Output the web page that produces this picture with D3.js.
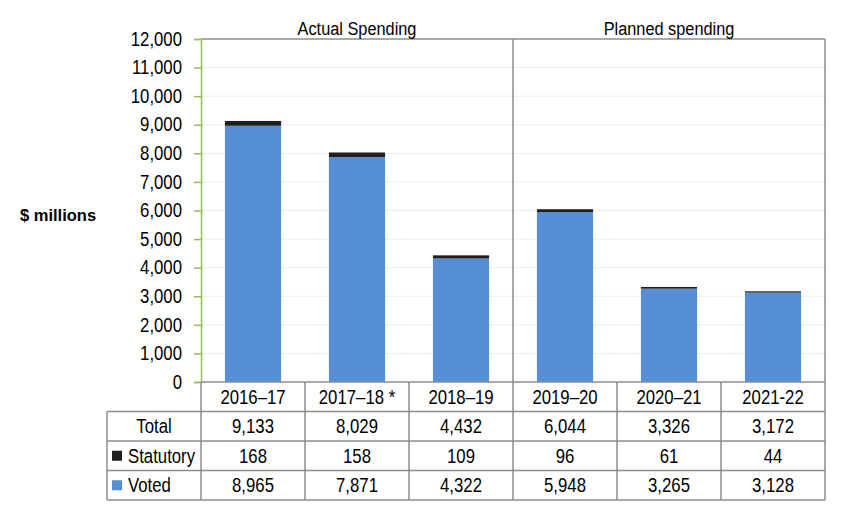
<!DOCTYPE html>
<html>
<head>
<meta charset="utf-8">
<script src="https://d3js.org/d3.v7.min.js"></script>
<style>
  body { margin: 0; background: #fff; }
  text { font-family: "Liberation Sans", Arial, sans-serif; fill: #000; }
</style>
</head>
<body>
<svg id="chart" width="850" height="524"></svg>
<script>
// Data
const years = ["2016\u201317", "2017\u201318 *", "2018\u201319", "2019\u201320", "2020\u201321", "2021-22"];
const voted = [8965, 7871, 4322, 5948, 3265, 3128];
const statutory = [168, 158, 109, 96, 61, 44];
const totals = [9133, 8029, 4432, 6044, 3326, 3172];
const yTicks = [0, 1000, 2000, 3000, 4000, 5000, 6000, 7000, 8000, 9000, 10000, 11000, 12000];
const sections = [
    { label: "Actual Spending", from: 0, to: 2 },
    { label: "Planned spending", from: 3, to: 5 }
];

const svg = d3.select("#chart");
const margin = { left: 201, right: 25, top: 39, bottom: 142 };
const width = 850, height = 524;
const plotW = width - margin.left - margin.right;
const plotH = height - margin.top - margin.bottom;
const fontSize = "19.5px";
const squeeze = 0.86; // the original uses a narrow face; no narrow font installed, so scale x

const colors = { voted: "#558ed5", statutory: "#1f1f1f", grid: "#ececec", frame: "#8c8c8c", axis: "#9bbb59" };

const x = d3.scaleBand().domain(years).range([margin.left, margin.left + plotW]).paddingInner(0).paddingOuter(0);
const y = d3.scaleLinear().domain([0, 12000]).range([margin.top + plotH, margin.top]);

// helper: narrow text placed at (px, py)
function narrowText(sel, px, py) {
    return sel.attr("transform", `translate(${px},${py}) scale(${squeeze},1)`);
}

// gridlines
svg.append("g")
    .selectAll("line")
    .data(yTicks.filter(d => d > 0 && d < 12000))
    .join("line")
    .attr("x1", margin.left)
    .attr("x2", margin.left + plotW)
    .attr("y1", d => y(d))
    .attr("y2", d => y(d))
    .attr("stroke", colors.grid)
    .attr("stroke-width", 1);

// stacked bars
const stack = years.map((yr, i) => ({ yr, voted: voted[i], statutory: statutory[i] }));
const barW = x.bandwidth() * 0.54;
const bars = svg.append("g");
bars.selectAll("rect.voted")
    .data(stack)
    .join("rect")
    .attr("class", "voted")
    .attr("x", d => x(d.yr) + (x.bandwidth() - barW) / 2)
    .attr("width", barW)
    .attr("y", d => y(d.voted))
    .attr("height", d => y(0) - y(d.voted))
    .attr("fill", colors.voted);
bars.selectAll("rect.stat")
    .data(stack)
    .join("rect")
    .attr("class", "stat")
    .attr("x", d => x(d.yr) + (x.bandwidth() - barW) / 2)
    .attr("width", barW)
    .attr("y", d => y(d.voted + d.statutory))
    .attr("height", d => y(d.voted) - y(d.voted + d.statutory))
    .attr("fill", colors.statutory);

// frame: top, right, divider
svg.append("line")
    .attr("x1", margin.left).attr("x2", margin.left + plotW)
    .attr("y1", y(12000)).attr("y2", y(12000))
    .attr("stroke", colors.frame).attr("stroke-width", 1.5);
svg.append("line")
    .attr("x1", margin.left + plotW).attr("x2", margin.left + plotW)
    .attr("y1", y(12000)).attr("y2", y(0))
    .attr("stroke", colors.frame).attr("stroke-width", 1.5);
const divX = x(years[3]);
svg.append("line")
    .attr("x1", divX).attr("x2", divX)
    .attr("y1", y(12000)).attr("y2", y(0))
    .attr("stroke", colors.frame).attr("stroke-width", 1.5);

// section titles
svg.append("g")
    .selectAll("text")
    .data(sections)
    .join("text")
    .each(function(d) {
        narrowText(d3.select(this), (x(years[d.from]) + x(years[d.to]) + x.bandwidth()) / 2, 35);
    })
    .attr("text-anchor", "middle")
    .style("font-size", "19px")
    .text(d => d.label);

// y axis (green)
const yAxis = svg.append("g")
    .attr("transform", `translate(${margin.left},0)`)
    .call(d3.axisLeft(y).tickValues(yTicks).tickSize(7).tickPadding(12).tickFormat(d3.format(",")));
yAxis.attr("font-family", null);
yAxis.select(".domain").attr("stroke", colors.axis).attr("stroke-width", 1.5);
yAxis.selectAll(".tick line").attr("stroke", colors.axis).attr("stroke-width", 1.5);
yAxis.selectAll(".tick text")
    .style("font-size", fontSize)
    .attr("fill", "#000")
    .attr("x", -19 / squeeze)
    .attr("transform", `scale(${squeeze},1)`);

// y label
svg.append("text")
    .attr("x", 20)
    .attr("y", 221)
    .style("font-size", "16.5px")
    .style("font-weight", "bold")
    .text("$ millions");

// data table under the plot
const rowH = 29.5;
const tableTop = y(0);
const tableLeft = 107;
const rows = [
    { label: "Total", values: totals, swatch: null },
    { label: "Statutory", values: statutory, swatch: colors.statutory },
    { label: "Voted", values: voted, swatch: colors.voted }
];
const fmt = d3.format(",");
const table = svg.append("g");
const tableBottom = tableTop + rowH * 4;

// horizontal lines
table.append("line")
    .attr("x1", margin.left).attr("x2", margin.left + plotW)
    .attr("y1", tableTop).attr("y2", tableTop)
    .attr("stroke", colors.frame).attr("stroke-width", 1.5);
table.selectAll("line.h")
    .data(d3.range(1, 5))
    .join("line")
    .attr("class", "h")
    .attr("x1", tableLeft).attr("x2", margin.left + plotW)
    .attr("y1", d => tableTop + d * rowH).attr("y2", d => tableTop + d * rowH)
    .attr("stroke", colors.frame).attr("stroke-width", 1.5);
// vertical lines
table.selectAll("line.v")
    .data(years.map(yv => x(yv)).concat([margin.left + plotW]))
    .join("line")
    .attr("class", "v")
    .attr("x1", d => d).attr("x2", d => d)
    .attr("y1", tableTop).attr("y2", tableBottom)
    .attr("stroke", colors.frame).attr("stroke-width", 1.5);
table.append("line")
    .attr("x1", tableLeft).attr("x2", tableLeft)
    .attr("y1", tableTop + rowH).attr("y2", tableBottom)
    .attr("stroke", colors.frame).attr("stroke-width", 1.5);

// header (year labels)
table.selectAll("text.yr")
    .data(years)
    .join("text")
    .attr("class", "yr")
    .each(function(d) {
        narrowText(d3.select(this), x(d) + x.bandwidth() / 2, tableTop + rowH / 2 + 7);
    })
    .attr("text-anchor", "middle")
    .style("font-size", fontSize)
    .text(d => d);

rows.forEach((r, ri) => {
    const cy = tableTop + rowH * (ri + 1) + rowH / 2 + 7;
    if (r.swatch) {
        table.append("rect")
            .attr("x", 112).attr("y", cy - 12)
            .attr("width", 10).attr("height", 10)
            .attr("fill", r.swatch);
        narrowText(table.append("text"), 128, cy)
            .style("font-size", fontSize)
            .text(r.label);
    } else {
        narrowText(table.append("text"), (tableLeft + margin.left) / 2, cy)
            .attr("text-anchor", "middle")
            .style("font-size", fontSize)
            .text(r.label);
    }
    table.selectAll(null)
        .data(r.values)
        .join("text")
        .each(function(d, i) {
            narrowText(d3.select(this), x(years[i]) + x.bandwidth() / 2, cy);
        })
        .attr("text-anchor", "middle")
        .style("font-size", fontSize)
        .text(d => fmt(d));
});
</script>
</body>
</html>
